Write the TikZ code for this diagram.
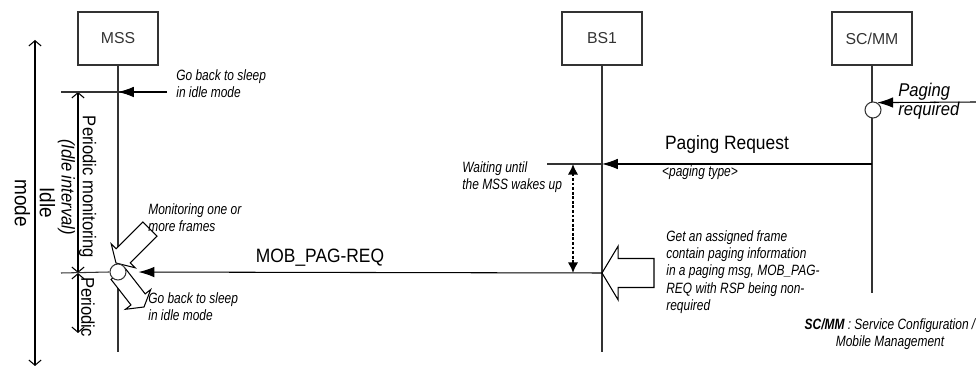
\documentclass[tikz,border=0pt]{standalone}
\usepackage{fontspec}
\setmainfont{Liberation Sans}[FakeStretch=0.9]
\newfontfamily\boxsf{Liberation Sans}
\newfontfamily\narrowit{Liberation Sans}[FakeStretch=0.8,UprightFont={* Italic},BoldFont={* Bold Italic}]
\usetikzlibrary{arrows.meta,positioning}

\begin{document}
\begin{tikzpicture}[x=0.02cm,y=0.02cm,>={Latex[length=9pt,width=6pt]},
  ent/.style={draw=black!80,line width=0.6pt,minimum width=1.6cm,minimum height=1.06cm,inner sep=0pt,font=\boxsf\fontsize{9}{10}\selectfont,text=black!80},
  life/.style={draw=black!80,line width=0.6pt},
  msg/.style={->,draw=black,line width=0.6pt},
  evt/.style={draw=black!80,circle,fill=white,minimum size=0.32cm,inner sep=0pt,line width=0.6pt},
  note/.style={font=\narrowit\fontsize{8.5}{9.9}\selectfont,align=left,inner sep=0pt},
  big/.style={font=\fontsize{11}{12}\selectfont,inner sep=1pt},
  side/.style={rotate=-90,align=center,inner sep=0pt},
  span/.style={{Straight Barb[length=3pt,width=7pt]}-{Straight Barb[length=3pt,width=7pt]},line width=0.6pt},
  wait/.style={{Latex[length=6pt,width=6pt]}-{Latex[length=6pt,width=6pt]},densely dotted,line width=1.6pt},
  pics/hollow/.style n args={3}{code={\draw[fill=white,line width=0.6pt] (0,0) -- ({-0.6*#2},{-#2}) -- ({-0.6*#2},{-#3}) -- (-#1,{-#3}) -- (-#1,#3) -- ({-0.6*#2},#3) -- ({-0.6*#2},#2) -- cycle;}}]
\useasboundingbox (0,0) rectangle (976,374);
% --- entities and lifelines ---
\node[ent] (mss)  at (118,335.5) {MSS};
\node[ent] (bs)   at (602,335.5) {BS1};
\node[ent] (scmm) at (872,335.5) {SC/MM};
\coordinate (mssend)  at (118,22);
\coordinate (bsend)   at (602,22);
\coordinate (scmmend) at (872,81);
\draw[life] (mss.south) -- (mssend);
\draw[life] (bs.south) -- (bsend);
\draw[life] (scmm.south) -- (scmmend);
% --- idle mode spans on the left ---
\coordinate (modetop) at (35,334);
\coordinate (modebot) at (35,8);
\draw[span] (modebot) -- (modetop);
\node[side,font=\fontsize{12}{14.2}\selectfont] (idlelab) at (35,171) {Idle\\mode};
\coordinate (sleep1) at (78,282);
\coordinate (wake)   at (78,101);
\coordinate (sleep2) at (78,41);
\draw[span] (sleep1) -- (wake);
\draw[span] (wake) -- (sleep2);
\node[side,font=\fontsize{10.5}{12}\selectfont] (perlab) at (77,187) {Periodic monitoring\\\itshape(Idle interval)};
\node[side,font=\fontsize{10.5}{12}\selectfont] (perlab2) at (88,67) {Periodic};
% --- first sleep ---
\coordinate (tickA) at (61,282);
\coordinate (goA)   at (167,282);
\draw[life] (tickA) -- (goA);
\draw[msg] (goA) -- (goA -| mss);
\node[note,anchor=north west] (sleepA) at (176,305) {Go back to sleep\\in idle mode};
% --- paging trigger at SC/MM ---
\node[evt] (scev) at (873,264) {};
\coordinate (pagin) at (976,272);
\draw[msg] (pagin) -- (scev.60);
\node[anchor=north west,align=left,inner sep=0pt,font=\itshape\fontsize{10.5}{10.5}\selectfont] (pagnote) at (898,291) {Paging\\required};
% --- paging request to BS1 ---
\coordinate (preq)  at (872,210);
\coordinate (waitA) at (547,210);
\draw[msg] (preq) -- (preq -| bs);
\draw[life] (waitA) -- (waitA -| bs);
\node[big] (preqlab) at (727,229) {Paging Request};
\node[note] (ptype) at (700,201) {<paging type>};
% --- waiting until the MSS wakes up ---
\coordinate (waittop) at (573,210);
\coordinate (waitbot) at (573,101);
\draw[wait] (waittop) -- (waitbot);
\node[note,anchor=north west] (waitnote) at (462,213) {Waiting until\\the MSS wakes up};
% --- MOB_PAG-REQ ---
\coordinate (mobstart) at (602,101);
\coordinate (tickB) at (61,101);
\pic[rotate=225] at (116,111) {hollow={48}{17}{10}};
\pic[rotate=-52] at (144,67) {hollow={42}{16}{9}};
\node[evt] (mssev) at (118,102) {};
\draw[life] (tickB) -- (mssev.west);
\draw[msg,shorten >=0.24cm] (mobstart) -- (mssev);
\node[big] (moblab) at (320,116) {MOB\_PAG-REQ};
\node[note,anchor=north west] (monnote) at (148,171) {Monitoring one or\\more frames};
\node[note,anchor=north west] (sleepB) at (148,82) {Go back to sleep\\in idle mode};
\pic[rotate=180] at (mobstart) {hollow={52}{27}{14.5}};
\node[note,anchor=north west] (framenote) at (666,144) {Get an assigned frame\\contain paging information\\in a paging msg, MOB\_PAG-\\REQ with RSP being non-\\required};
% --- legend ---
\node[note,align=center] (legend) at (890,40) {{\bfseries SC/MM} : Service Configuration /\\Mobile Management};
\end{tikzpicture}
\end{document}
